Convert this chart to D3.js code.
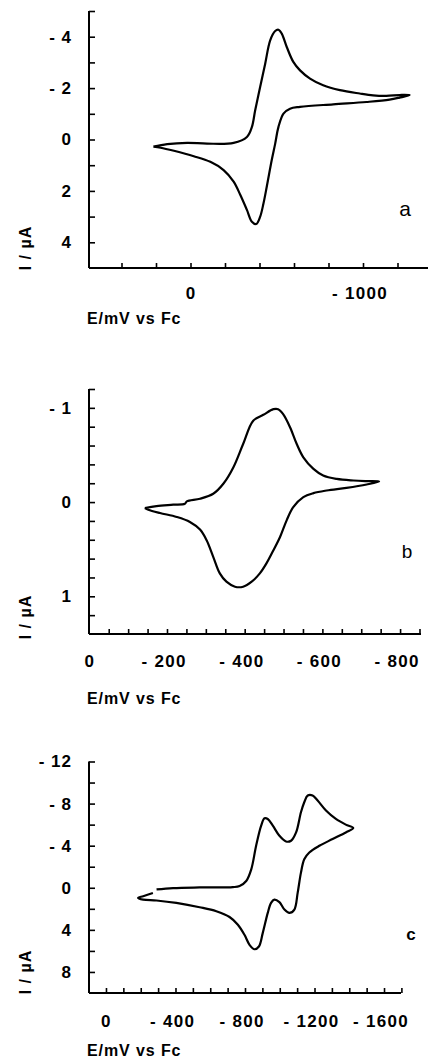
<!DOCTYPE html>
<html><head><meta charset="utf-8">
<script src="https://cdn.jsdelivr.net/npm/d3@7"></script>
<style>
html,body{margin:0;padding:0;background:#fff;}
svg{display:block;}
text{font-family:"Liberation Sans",Arial,sans-serif;fill:#000;}
</style></head>
<body>
<svg id="chart" width="428" height="1063"></svg>
<script>
// ---------- Panel a data (E / mV vs Fc, I / µA) ----------
const aForwardE = [215,135,19,-96,-250,-327,-356,-375,-404,-433,-462,-491,-510,-529,-558,-596,-635,-693,-769,-866,-981,-1058,-1135,-1212,-1270];
const aForwardI = [0.28,0.18,0.13,0.16,0.13,-0.10,-0.49,-1.14,-2.05,-2.95,-3.86,-4.22,-4.27,-4.12,-3.60,-3.02,-2.69,-2.37,-2.11,-1.92,-1.79,-1.72,-1.70,-1.73,-1.73];
const aReverseE = [-1212,-1154,-1020,-827,-635,-577,-539,-510,-491,-471,-442,-423,-404,-381,-356,-327,-289,-250,-192,-115,-19,96,173,215];
const aReverseI = [-1.63,-1.55,-1.46,-1.37,-1.27,-1.20,-1.01,-0.49,0.16,0.80,1.84,2.49,3.00,3.29,3.20,2.74,2.16,1.64,1.19,0.87,0.65,0.44,0.32,0.28];
const aXTicks = [400,200,0,-200,-400,-600,-800,-1000,-1200];
const aXLabels = [0,-1000];
const aYTicks = [-5,-4,-3,-2,-1,0,1,2,3,4];
const aYLabels = [-4,-2,0,2,4];

// ---------- Panel b data ----------
const bForwardE = [-143,-173,-216,-246,-251,-285,-319,-345,-371,-396,-422,-448,-474,-486,-499,-517,-534,-551,-577,-602,-637,-680,-714,-746];
const bForwardI = [0.063,0.042,0.028,0.018,-0.007,-0.035,-0.088,-0.194,-0.370,-0.616,-0.863,-0.926,-0.986,-0.986,-0.933,-0.792,-0.616,-0.475,-0.352,-0.282,-0.246,-0.229,-0.222,-0.218];
const bReverseE = [-714,-662,-611,-577,-551,-525,-508,-491,-474,-456,-439,-418,-396,-375,-353,-336,-319,-302,-285,-259,-225,-182,-152,-143];
const bReverseI = [-0.187,-0.151,-0.123,-0.095,-0.053,0.053,0.194,0.370,0.511,0.651,0.757,0.845,0.898,0.898,0.845,0.757,0.581,0.405,0.292,0.211,0.158,0.116,0.081,0.063];
const bXTicks = [-50,-100,-150,-200,-250,-300,-350,-400,-450,-500,-550,-600,-650,-700,-750,-800,-850];
const bXLabels = [0,-200,-400,-600,-800];
const bYTicks = [-1.2,-1.0,-0.8,-0.6,-0.4,-0.2,0,0.2,0.4,0.6,0.8,1.0,1.2];
const bYLabels = [-1,0,1];

// ---------- Panel c data ----------
const cForwardE = [-291,-386,-539,-730,-769,-807,-836,-864,-893,-912,-931,-960,-998,-1036,-1065,-1094,-1122,-1141,-1161,-1189,-1218,-1266,-1323,-1380,-1423];
const cForwardI = [0.16,0.03,-0.03,-0.06,-0.16,-0.64,-1.75,-3.99,-5.90,-6.60,-6.54,-5.90,-4.94,-4.40,-4.47,-5.26,-7.18,-8.13,-8.77,-8.77,-8.29,-7.34,-6.54,-6.00,-5.68];
const cReverseE = [-1380,-1304,-1228,-1170,-1141,-1122,-1103,-1084,-1055,-1027,-998,-969,-950,-931,-902,-880,-855,-826,-797,-759,-711,-635,-539,-405,-291,-214,-185,-214,-270];
const cReverseI = [-5.26,-4.63,-3.99,-3.35,-2.71,-1.44,0.48,2.07,2.39,2.07,1.37,1.12,1.44,2.39,4.31,5.58,5.84,5.42,4.47,3.51,2.78,2.23,1.85,1.44,1.21,1.12,0.96,0.80,0.50];
const cXTicks = [0,-100,-200,-300,-400,-500,-600,-700,-800,-900,-1000,-1100,-1200,-1300,-1400,-1500,-1600,-1700];
const cXLabels = [0,-400,-800,-1200,-1600];
const cYTicks = [-12,-10,-8,-6,-4,-2,0,2,4,6,8];
const cYLabels = [-12,-8,-4,0,4,8];

const axisTitle = "E/mV vs Fc";
const yTitle = "I / µA";

const svg = d3.select("#chart");
const fmt = v => v === 0 ? "0" : (v < 0 ? "- " + Math.abs(v) : String(v));

function panel(cfg) {
  const x = d3.scaleLinear().domain(cfg.xDomain).range(cfg.xRange);
  const y = d3.scaleLinear().domain(cfg.yDomain).range(cfg.yRange);
  const g = svg.append("g");
  const x0 = cfg.xAxisStart, yb = cfg.yRange[1];
  g.append("line").attr("x1", x0).attr("x2", x0).attr("y1", cfg.yRange[0]).attr("y2", yb)
    .attr("stroke", "#000").attr("stroke-width", 2);
  g.append("line").attr("x1", x0).attr("x2", cfg.xAxisEnd).attr("y1", yb).attr("y2", yb)
    .attr("stroke", "#000").attr("stroke-width", 2);
  const ya = d3.axisLeft(y).tickValues(cfg.yTicks).tickSize(-6).tickFormat("");
  const gy = g.append("g").attr("transform", `translate(${x0},0)`).call(ya);
  gy.select(".domain").remove();
  gy.selectAll("line").attr("stroke-width", 1.6);
  const yl = d3.axisLeft(y).tickValues(cfg.yLabels).tickSize(0).tickPadding(17).tickFormat(fmt);
  const gyl = g.append("g").attr("transform", `translate(${x0},0)`).call(yl);
  gyl.select(".domain").remove();
  gyl.selectAll("text").attr("font-size", 17).attr("font-weight", "bold")
    .attr("font-family", "Liberation Sans, Arial, sans-serif").attr("fill", "#000")
    .attr("letter-spacing", "1px");
  const xa = d3.axisBottom(x).tickValues(cfg.xTicks).tickSize(-5).tickFormat("");
  const gx = g.append("g").attr("transform", `translate(0,${yb})`).call(xa);
  gx.select(".domain").remove();
  gx.selectAll("line").attr("stroke-width", 1.6);
  const xl = d3.axisBottom(x).tickValues(cfg.xLabels).tickSize(0).tickPadding(cfg.xPad).tickFormat(fmt);
  const gxl = g.append("g").attr("transform", `translate(0,${yb})`).call(xl);
  gxl.select(".domain").remove();
  gxl.selectAll("text").attr("font-size", 17).attr("font-weight", "bold")
    .attr("font-family", "Liberation Sans, Arial, sans-serif").attr("fill", "#000")
    .attr("letter-spacing", "1.3px")
    .attr("dx", d => d < 0 ? "-0.2em" : "0");
  g.append("text").attr("x", 87).attr("y", cfg.xTitleY).text(axisTitle)
    .attr("font-size", 16).attr("font-weight", "bold").attr("letter-spacing", "0.9px");
  g.append("text").attr("transform", `translate(31,${cfg.yTitleY}) rotate(-90)`)
    .attr("text-anchor", "middle").text(yTitle)
    .attr("font-size", 16).attr("font-weight", "bold").attr("letter-spacing", "1px");
  g.append("text").attr("x", cfg.tag[0]).attr("y", cfg.tag[1]).attr("text-anchor", "middle")
    .text(cfg.tagText).attr("font-size", cfg.tagSize).attr("font-weight", cfg.tagBold ? "bold" : "normal");
  const pts = cfg.fE.map((e, i) => [e, cfg.fI[i]]).concat(cfg.rE.map((e, i) => [e, cfg.rI[i]]));
  const line = d3.line().x(d => x(d[0])).y(d => y(d[1])).curve(d3.curveCatmullRom.alpha(0.5));
  g.append("path").attr("d", line(pts)).attr("fill", "none").attr("stroke", "#000")
    .attr("stroke-width", 2.2).attr("stroke-linejoin", "round");
}

panel({xDomain:[0,-1000], xRange:[190.5,363], yDomain:[-5,5], yRange:[11,268],
  xAxisStart:89, xAxisEnd:428, xTicks:aXTicks, xLabels:aXLabels, yTicks:aYTicks, yLabels:aYLabels,
  xPad:19, xTitleY:324, yTitleY:248, tag:[405,216], tagText:"a", tagSize:21, tagBold:false,
  fE:aForwardE, fI:aForwardI, rE:aReverseE, rI:aReverseI});

panel({xDomain:[0,-850], xRange:[89.3,419.5], yDomain:[-1.2,1.4], yRange:[389,634],
  xAxisStart:89, xAxisEnd:421, xTicks:bXTicks, xLabels:bXLabels, yTicks:bYTicks, yLabels:bYLabels,
  xPad:21, xTitleY:704, yTitleY:617, tag:[407,558], tagText:"b", tagSize:19, tagBold:false,
  fE:bForwardE, fI:bForwardI, rE:bReverseE, rI:bReverseI});

panel({xDomain:[100,-1700], xRange:[88.6,401.4], yDomain:[-12,10], yRange:[761.5,993],
  xAxisStart:89, xAxisEnd:401, xTicks:cXTicks, xLabels:cXLabels, yTicks:cYTicks, yLabels:cYLabels,
  xPad:22, xTitleY:1056, yTitleY:972, tag:[411,940], tagText:"c", tagSize:17, tagBold:true,
  fE:cForwardE, fI:cForwardI, rE:cReverseE, rI:cReverseI});
</script>
</body></html>
